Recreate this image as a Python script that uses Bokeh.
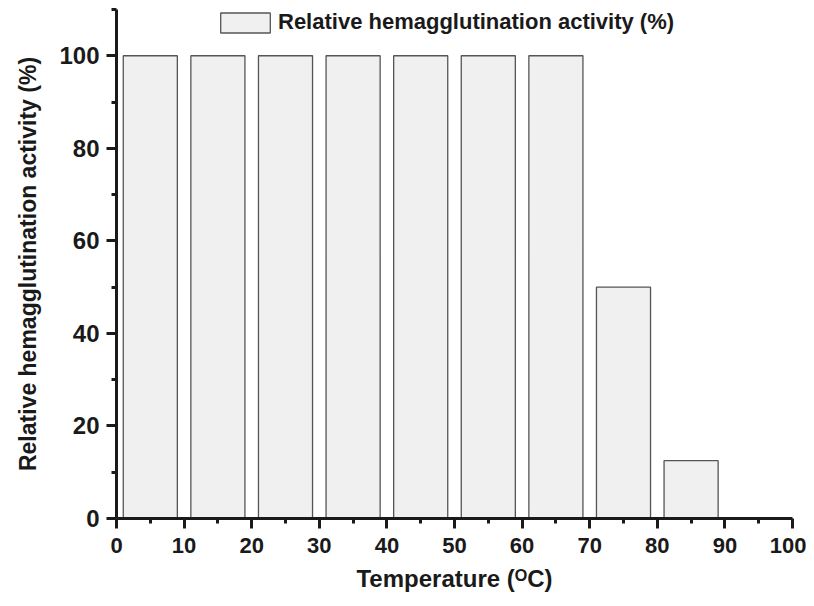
from bokeh.plotting import figure
from bokeh.models import (Range1d, FixedTicker, Legend, LegendItem,
                          ColumnDataSource)
from bokeh.embed import file_html
from bokeh.resources import INLINE

# ---- data ----
temperatures = [5, 15, 25, 35, 45, 55, 65, 75, 85, 95]
activity = [100, 100, 100, 100, 100, 100, 100, 50, 12.5, 0]
x_ticks = [0, 10, 20, 30, 40, 50, 60, 70, 80, 90, 100]
x_minor = [5, 15, 25, 35, 45, 55, 65, 75, 85, 95]
y_ticks = [0, 20, 40, 60, 80, 100]
y_minor = [10, 30, 50, 70, 90, 110]
series_label = "Relative hemagglutination activity (%)"
y_title = "Relative hemagglutination activity (%)"
x_title = "Temperature (\u1D3CC)"

FONT = "Liberation Sans"
INK = "#1a1a1a"

p = figure(width=806, height=600, output_backend="svg", toolbar_location=None,
           x_range=Range1d(0, 100), y_range=Range1d(0, 110),
           min_border_left=116, min_border_right=14, min_border_top=9,
           min_border_bottom=82)
p.outline_line_color = None
p.xgrid.visible = False
p.ygrid.visible = False
p.background_fill_color = "white"

src = ColumnDataSource(dict(x=temperatures, top=activity))
r = p.vbar(x="x", top="top", bottom=0, width=8, source=src,
           fill_color="#f0f0f0", line_color="#555555", line_width=1.3)

for ax in (p.xaxis[0], p.yaxis[0]):
    ax.axis_line_width = 3
    ax.axis_line_color = INK
    ax.major_tick_line_width = 3
    ax.major_tick_line_color = INK
    ax.minor_tick_line_width = 3
    ax.minor_tick_line_color = INK
    ax.major_tick_in = 0
    ax.major_tick_out = 10
    ax.minor_tick_in = 0
    ax.minor_tick_out = 5
    ax.major_label_text_font = FONT
    ax.major_label_text_font_style = "bold"
    ax.major_label_text_color = INK
    ax.axis_label_text_font = FONT
    ax.axis_label_text_font_style = "bold"
    ax.axis_label_text_color = INK

p.xaxis.ticker = FixedTicker(ticks=x_ticks, minor_ticks=x_minor)
p.yaxis.ticker = FixedTicker(ticks=y_ticks, minor_ticks=y_minor)
p.xaxis.major_label_text_font_size = "22px"
p.yaxis.major_label_text_font_size = "24px"
p.xaxis.major_label_standoff = 9
p.yaxis.major_label_standoff = 7

p.yaxis.axis_label = y_title
p.yaxis.axis_label_text_font_size = "23px"
p.yaxis.axis_label_standoff = 15
p.xaxis.axis_label = x_title
p.xaxis.axis_label_text_font_size = "24px"
p.xaxis.axis_label_standoff = 9

legend = Legend(items=[LegendItem(label=series_label, renderers=[r])],
                location=(98, 483))
legend.glyph_width = 62
legend.glyph_height = 25
legend.label_standoff = 2
legend.label_height = 25
legend.label_text_font = FONT
legend.label_text_font_style = "bold"
legend.label_text_font_size = "22px"
legend.label_text_color = INK
legend.padding = 0
legend.margin = 0
legend.spacing = 0
legend.border_line_color = None
legend.background_fill_alpha = 0
p.add_layout(legend)

open("out.html", "w").write(file_html(p, INLINE))
